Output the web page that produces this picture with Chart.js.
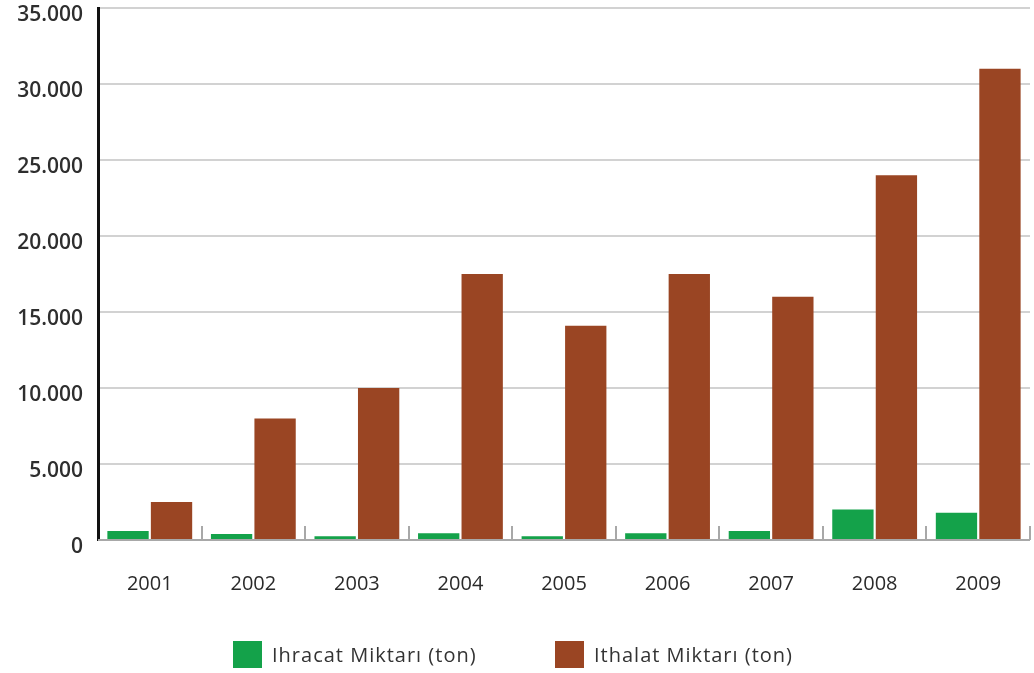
<!DOCTYPE html>
<html lang="tr">
<head>
<meta charset="utf-8">
<title>Ihracat ve Ithalat Miktarı</title>
<script src="https://cdn.jsdelivr.net/npm/chart.js@4/dist/chart.umd.min.js"></script>
<style>
  html, body { margin: 0; padding: 0; background: #ffffff; }
  #wrap { width: 1034px; height: 673px; position: relative; overflow: hidden; }
  #c { position: absolute; left: 0; top: 0; }
  .lg-item { position: absolute; top: 641px; height: 27px; display: flex; align-items: center;
             font-family: 'Open Sans', sans-serif; font-size: 20px; letter-spacing: 1px;
             color: #333333; white-space: nowrap; }
  .lg-box { width: 29px; height: 27px; margin-right: 10px; flex: none; }
</style>
</head>
<body>
<div id="wrap">
  <canvas id="c" width="1034" height="673"></canvas>
  <div id="legend"></div>
</div>
<script>
// Yıllar
const years = ['2001', '2002', '2003', '2004', '2005', '2006', '2007', '2008', '2009'];
// Ihracat miktarı (ton)
const exportTons = [600, 400, 250, 450, 250, 450, 600, 2000, 1800];
// Ithalat miktarı (ton)
const importTons = [2500, 8000, 10000, 17500, 14100, 17500, 16000, 24000, 31000];
// Y ekseni etiketleri
const yTicks = [0, 5000, 10000, 15000, 20000, 25000, 30000, 35000];
const seriesNames = ['Ihracat Miktarı (ton)', 'Ithalat Miktarı (ton)'];
const seriesColors = ['#14a24a', '#9a4523'];
// left edge of each legend entry
const legendLeft = [233, 555];

// Short gray separators rising from the baseline between year groups
const separatorTicks = {
  id: 'separatorTicks',
  afterDatasetsDraw(chart) {
    const x = chart.scales.x, y = chart.scales.y;
    const ctx = chart.ctx;
    const base = y.getPixelForValue(0);
    const half = (x.getPixelForValue(1) - x.getPixelForValue(0)) / 2;
    ctx.save();
    ctx.strokeStyle = '#a8a8a8';
    ctx.lineWidth = 2;
    for (let i = 0; i < years.length; i++) {
      const px = Math.round(x.getPixelForValue(i) + half);
      ctx.beginPath();
      ctx.moveTo(px, base);
      ctx.lineTo(px, base - 14);
      ctx.stroke();
    }
    ctx.beginPath();
    ctx.moveTo(chart.chartArea.left, base);
    ctx.lineTo(chart.chartArea.right, base);
    ctx.stroke();
    ctx.restore();
  }
};

const chart = new Chart(document.getElementById('c'), {
  type: 'bar',
  data: {
    labels: years,
    datasets: seriesNames.map((name, i) => ({
      label: name,
      data: i === 0 ? exportTons : importTons,
      backgroundColor: seriesColors[i],
      categoryPercentage: 0.84,
      barPercentage: 0.95
    }))
  },
  options: {
    responsive: false,
    animation: false,
    devicePixelRatio: 1,
    layout: { padding: { top: 8, right: 4, left: 0, bottom: 0 } },
    plugins: {
      tooltip: { enabled: false },
      legend: { display: false }
    },
    scales: {
      x: {
        grid: { display: false },
        border: { display: false },
        ticks: {
          color: '#2a2a2a',
          font: { family: 'Open Sans', size: 20 },
          padding: 24
        },
        afterFit(scale) { scale.height = 133; }
      },
      y: {
        min: 0,
        max: 35000,
        afterBuildTicks(scale) { scale.ticks = yTicks.map(v => ({ value: v })); },
        grid: { color: '#d2d2d2', lineWidth: 2, drawTicks: false },
        border: { display: true, color: '#111111', width: 3 },
        ticks: {
          color: '#2e2e2e',
          font: { family: 'Open Sans', size: 21, weight: '600' },
          padding: 15,
          labelOffset: 7,
          callback: v => v === 0 ? '0' : v.toLocaleString('de-DE')
        },
        afterFit(scale) {
          scale.width = 98;
          scale.paddingTop = 0;
          scale.paddingBottom = 0;
        }
      }
    }
  },
  plugins: [separatorTicks]
});

// Legend built from the dataset names and colours
const legend = document.getElementById('legend');
chart.data.datasets.forEach((ds, i) => {
  const item = document.createElement('div');
  item.className = 'lg-item';
  item.style.left = legendLeft[i] + 'px';
  const box = document.createElement('span');
  box.className = 'lg-box';
  box.style.background = ds.backgroundColor;
  const txt = document.createElement('span');
  txt.textContent = ds.label;
  item.appendChild(box);
  item.appendChild(txt);
  legend.appendChild(item);
});
</script>
</body>
</html>
